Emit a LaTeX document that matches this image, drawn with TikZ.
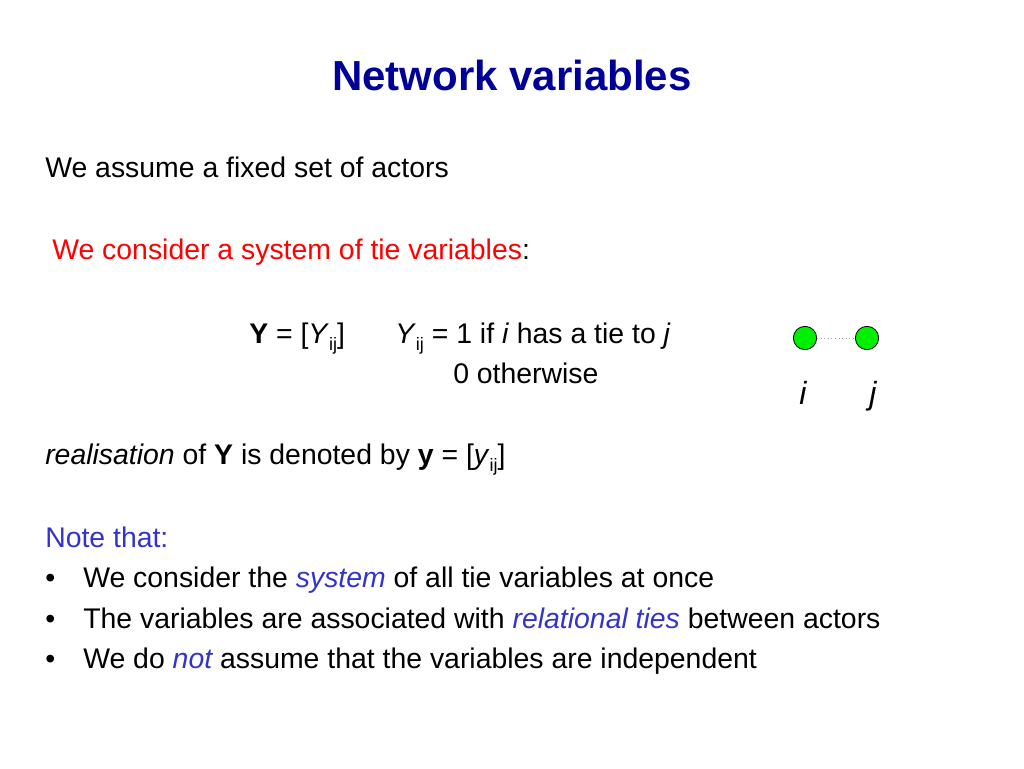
\documentclass[tikz,border=0pt]{standalone}
\usepackage{fontspec}
\setmainfont{Liberation Sans}
\usepackage{tikz}

\definecolor{titleblue}{RGB}{0,0,153}
\definecolor{noteblue}{RGB}{51,51,204}
\definecolor{tiered}{RGB}{255,0,0}
\definecolor{actorgreen}{RGB}{0,240,0}

\newcommand{\bodyfont}{\fontsize{21.3}{25}\selectfont}
\newcommand{\idx}[1]{\raisebox{-0.5ex}{\fontsize{13.5}{13.5}\selectfont #1}}

\tikzset{
  txt/.style={anchor=base west,inner sep=0pt,font=\bodyfont},
  actor/.style={circle,draw=black,line width=0.6pt,fill=actorgreen,minimum size=17.5pt,inner sep=0pt},
  actorlabel/.style={anchor=base,inner sep=0pt,font=\fontsize{24}{28}\selectfont\itshape},
  tie/.style={draw=gray!75,dotted,line width=0.7pt}
}

\begin{document}
\begin{tikzpicture}[x=0.75pt,y=0.75pt,yscale=-1,xscale=1]
\useasboundingbox (0,0) rectangle (1024,768);

% Text Node
\draw (512,90) node [anchor=base,inner sep=0pt,font=\fontsize{31.5}{36}\selectfont\bfseries,color=titleblue] (title) {Network variables};
% Text Node
\draw (45,177) node [txt] (actors) {We assume a fixed set of actors};
% Text Node
\draw (52,259) node [txt] (system) {\textcolor{tiered}{We consider a system of tie variables}:};
% Text Node
\draw (249,343) node [txt] (ymat) {\textbf{Y} = [\textit{Y}\idx{ij}]};
% Text Node
\draw (395,343) node [txt] (yone) {\textit{Y}\idx{ij} = 1 if \textit{i} has a tie to \textit{j}};
% Text Node
\draw (453,383) node [txt] (yzero) {0 otherwise};

%Actors
\node [actor] (ni) at (805,338) {};
\node [actor] (nj) at (867,338) {};
\draw [tie] (ni) -- (nj);
% Text Node
\draw (803,404) node [actorlabel] (li) {i};
% Text Node
\draw (873,404) node [actorlabel] (lj) {j};

% Text Node
\draw (45,464) node [txt] (real) {\textit{realisation} of \textbf{Y} is denoted by \textbf{y} = [\textit{y}\idx{ij}]};
% Text Node
\draw (45,547) node [txt,color=noteblue] (note) {Note that:};

% Bullets
\draw (45,587) node [txt] (d1) {\textbullet};
\draw (45,628) node [txt] (d2) {\textbullet};
\draw (45,668) node [txt] (d3) {\textbullet};
% Text Node
\draw (83,587) node [txt] (b1) {We consider the \textcolor{noteblue}{\itshape system} of all tie variables at once};
% Text Node
\draw (83,628) node [txt] (b2) {The variables are associated with \textcolor{noteblue}{\itshape relational ties} between actors};
% Text Node
\draw (83,668) node [txt] (b3) {We do \textcolor{noteblue}{\itshape not} assume that the variables are independent};

\end{tikzpicture}
\end{document}
